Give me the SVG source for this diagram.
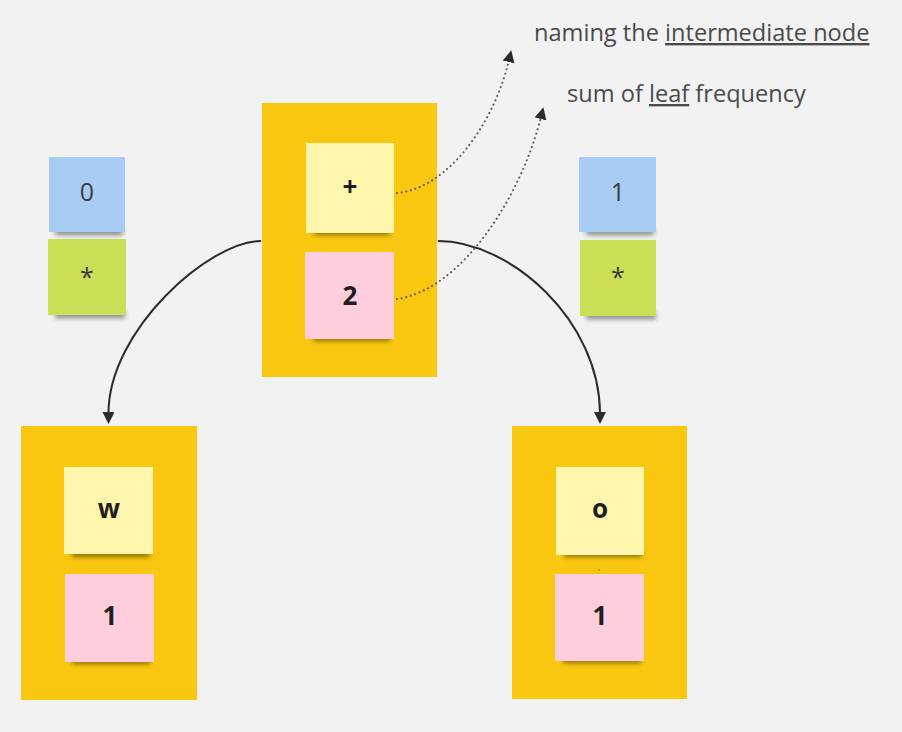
<svg xmlns="http://www.w3.org/2000/svg" width="902" height="732" viewBox="0 0 902 732">
<defs>
<style>
.frame{fill:#F9C70F}
.yel{fill:#FFF6AE}
.pink{fill:#FFCDDC}
.blue{fill:#A7CDF4}
.green{fill:#CADF56}
.shadow{fill:#000;opacity:0.45;filter:url(#blur)}
.big{font-family:"Open Sans","Noto Sans",sans-serif;font-weight:bold;font-size:26px;fill:#1e1e1e;text-anchor:middle}
.small{font-family:"Open Sans","Noto Sans",sans-serif;font-size:25px;fill:#3c3c3c;text-anchor:middle}
.note{font-family:"Open Sans","Noto Sans",sans-serif;font-size:23.6px;fill:#4a4a4a}
.solid{fill:none;stroke:#2b2b2b;stroke-width:2}
.dot{fill:none;stroke:#555;stroke-width:2;stroke-dasharray:0.1 4.6;stroke-linecap:round}
</style>
<filter id="blur" x="-20%" y="-100%" width="140%" height="300%"><feGaussianBlur stdDeviation="2.5"/></filter>
<marker id="arr" viewBox="0 0 12 12" refX="2" refY="6" markerWidth="12" markerHeight="12" markerUnits="userSpaceOnUse" orient="auto"><path d="M0,0 L12,6 L0,12 z" fill="#2b2b2b"/></marker>
</defs>
<rect width="902" height="732" fill="#F2F2F2"/>

<g id="node-root">
<rect class="frame" x="262" y="103" width="175" height="274"/>
<rect class="shadow" x="314" y="229" width="76" height="6"/>
<rect class="yel" x="306" y="143" width="88" height="90"/>
<text class="big" x="350" y="196">+</text>
<rect class="shadow" x="314" y="335" width="76" height="6"/>
<rect class="pink" x="305" y="252" width="89" height="87"/>
<text class="big" x="350" y="305">2</text>
</g>

<g id="node-w">
<rect class="frame" x="21" y="426" width="176" height="274"/>
<rect class="shadow" x="72" y="551" width="78" height="6"/>
<rect class="yel" x="64" y="467" width="89" height="87"/>
<text class="big" x="109" y="518">w</text>
<rect class="shadow" x="72" y="658" width="78" height="6"/>
<rect class="pink" x="65" y="574" width="89" height="88"/>
<text class="big" x="110" y="625">1</text>
</g>

<g id="node-o">
<rect class="frame" x="512" y="426" width="175" height="273"/>
<rect class="shadow" x="564" y="551" width="78" height="6"/>
<rect class="yel" x="556" y="467" width="88" height="88"/>
<text class="big" x="600" y="518">o</text>
<circle cx="599" cy="570" r="0.8" fill="#555"/>
<rect class="shadow" x="563" y="657" width="78" height="6"/>
<rect class="pink" x="555" y="574" width="89" height="87"/>
<text class="big" x="600" y="625">1</text>
</g>

<g id="label-left">
<rect class="shadow" x="55" y="229" width="68" height="6"/>
<rect class="blue" x="49" y="157" width="76" height="75"/>
<text class="small" x="87" y="201">0</text>
<rect class="shadow" x="55" y="312" width="70" height="6"/>
<rect class="green" x="48" y="239" width="78" height="76"/>
<text class="small" x="87" y="286">*</text>
</g>

<g id="label-right">
<rect class="shadow" x="586" y="229" width="68" height="6"/>
<rect class="blue" x="579" y="157" width="77" height="75"/>
<text class="small" x="618" y="201">1</text>
<rect class="shadow" x="586" y="313" width="70" height="6"/>
<rect class="green" x="580" y="240" width="76" height="76"/>
<text class="small" x="618" y="286">*</text>
</g>

<g id="connectors">
<path class="solid" d="M261 241 C210 241 108 330 108.5 414" marker-end="url(#arr)"/>
<path class="solid" d="M438 241 C510 241 600 320 600 414" marker-end="url(#arr)"/>
<path class="dot" d="M397 193 C450 188 495 120 509 60" marker-end="url(#arr)"/>
<path class="dot" d="M397 299 C460 290 520 200 541 117" marker-end="url(#arr)"/>
</g>

<g id="annotations">
<text class="note" x="534" y="41">naming the <tspan text-decoration="underline">intermediate node</tspan></text>
<text class="note" x="567" y="102">sum of <tspan text-decoration="underline">leaf</tspan> frequency</text>
</g>
</svg>
